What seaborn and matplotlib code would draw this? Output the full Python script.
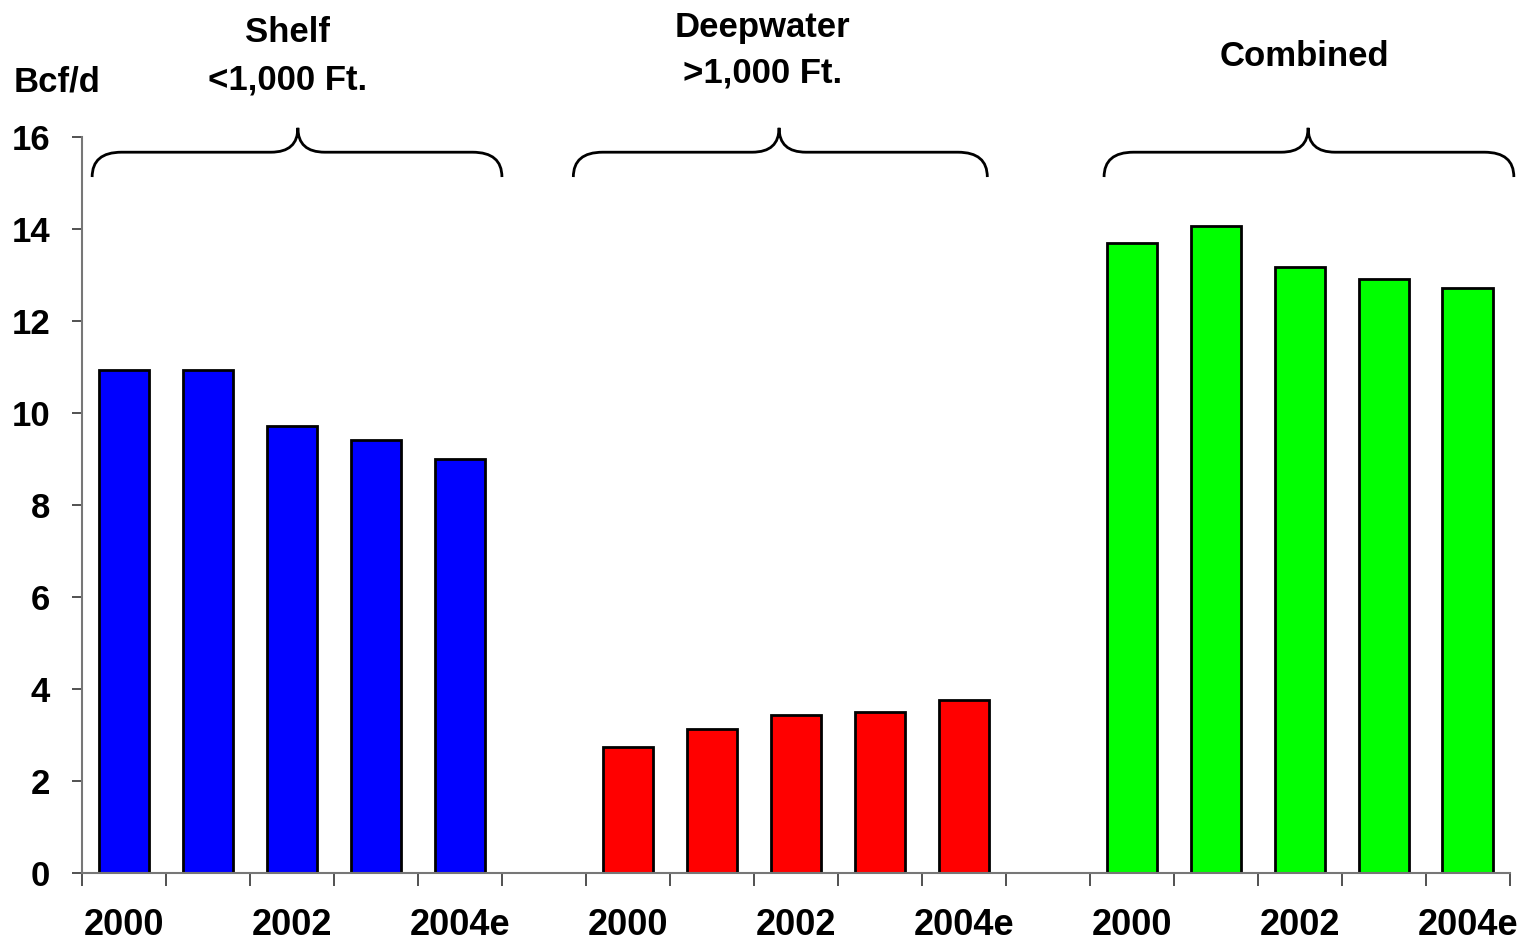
import numpy as np
import pandas as pd
import matplotlib
matplotlib.use('Agg')
import matplotlib.pyplot as plt
from matplotlib.path import Path
from matplotlib.patches import PathPatch
import seaborn as sns

years = ['2000', '2001', '2002', '2003', '2004e']
groups = ['Shelf', 'Deepwater', 'Combined']
shelf = [10.93, 10.93, 9.72, 9.41, 9.0]
deepwater = [2.74, 3.13, 3.43, 3.5, 3.76]
combined = [13.7, 14.07, 13.17, 12.91, 12.72]
colors = ['#0000FF', '#FF0000', '#00FF00']

rows = []
for g, (name, vals) in enumerate(zip(groups, [shelf, deepwater, combined])):
    for i, v in enumerate(vals):
        rows.append({'pos': g * 6 + i, 'value': v, 'group': name, 'year': years[i]})
df = pd.DataFrame(rows)

sns.set_style('white')
plt.rcParams['font.family'] = ['Liberation Sans', 'DejaVu Sans']
plt.rcParams['font.weight'] = 'bold'
plt.rcParams['text.color'] = 'black'
plt.rcParams['xtick.color'] = 'black'
plt.rcParams['ytick.color'] = 'black'

fig = plt.figure(figsize=(15.28, 9.43), dpi=100)
ax = fig.add_axes([0.0537, 0.0742, 0.9343, 0.7805])

sns.barplot(data=df, x='pos', y='value', hue='group', palette=colors,
            native_scale=True, dodge=False, width=0.6, edgecolor='black',
            linewidth=2, saturation=1, legend=False, ax=ax)

ax.set_xlim(-0.5, 16.5)
ax.set_ylim(0, 16)
ax.set_yticks(np.arange(0, 17, 2))
ax.set_xticks(np.arange(-0.5, 17, 1))
ax.set_xticklabels([])
lab_pos = [g * 6 + i for g in range(3) for i in (0, 2, 4)]
ax.set_xticks(lab_pos, minor=True)
ax.set_xticklabels(['2000', '2002', '2004e'] * 3, minor=True)
ax.tick_params(axis='x', which='major', bottom=True, direction='out', length=9,
               width=1.2, color='#333333')
ax.tick_params(axis='x', which='minor', bottom=True, length=0, pad=25,
               labelsize=26, labelcolor='black')
ax.tick_params(axis='y', left=True, direction='out', length=7, width=1.2,
               color='#333333', labelsize=25, pad=16, labelcolor='black')
for t in ax.get_xticklabels(minor=True) + ax.get_yticklabels():
    t.set_fontweight('bold')
ax.set_xlabel('')
ax.set_ylabel('')
for s in ['top', 'right']:
    ax.spines[s].set_visible(False)
for s in ['left', 'bottom']:
    ax.spines[s].set_color('#777777')
    ax.spines[s].set_linewidth(1.5)


def brace(ax, x0, x1, xc, yb=15.13, ym=15.67, yt=16.2, rx=0.35, tx=0.32):
    verts = [(x0, yb), (x0, ym), (x0 + rx, ym),
             (xc - tx, ym),
             (xc, ym), (xc, yt),
             (xc, ym), (xc + tx, ym),
             (x1 - rx, ym),
             (x1, ym), (x1, yb)]
    codes = [Path.MOVETO, Path.CURVE3, Path.CURVE3,
             Path.LINETO,
             Path.CURVE3, Path.CURVE3,
             Path.CURVE3, Path.CURVE3,
             Path.LINETO,
             Path.CURVE3, Path.CURVE3]
    ax.add_patch(PathPatch(Path(verts, codes), fill=False, lw=2, color='black',
                           clip_on=False))


brace(ax, -0.38, 4.5, 2.07)
brace(ax, 5.35, 10.28, 7.8)
brace(ax, 11.67, 16.55, 14.1)

title_kw = dict(ha='center', va='center', fontsize=25, fontweight='bold',
                color='black', clip_on=False)
ax.text(1.95, 18.28, 'Shelf', **title_kw)
ax.text(1.95, 17.24, '<1,000 Ft.', **title_kw)
ax.text(7.6, 18.39, 'Deepwater', **title_kw)
ax.text(7.6, 17.39, '>1,000 Ft.', **title_kw)
ax.text(14.06, 17.76, 'Combined', **title_kw)
fig.text(57 / 1528, 1 - 82 / 943, 'Bcf/d', ha='center', va='center',
         fontsize=25, fontweight='bold', color='black')

fig.savefig('out.png', dpi=100)
